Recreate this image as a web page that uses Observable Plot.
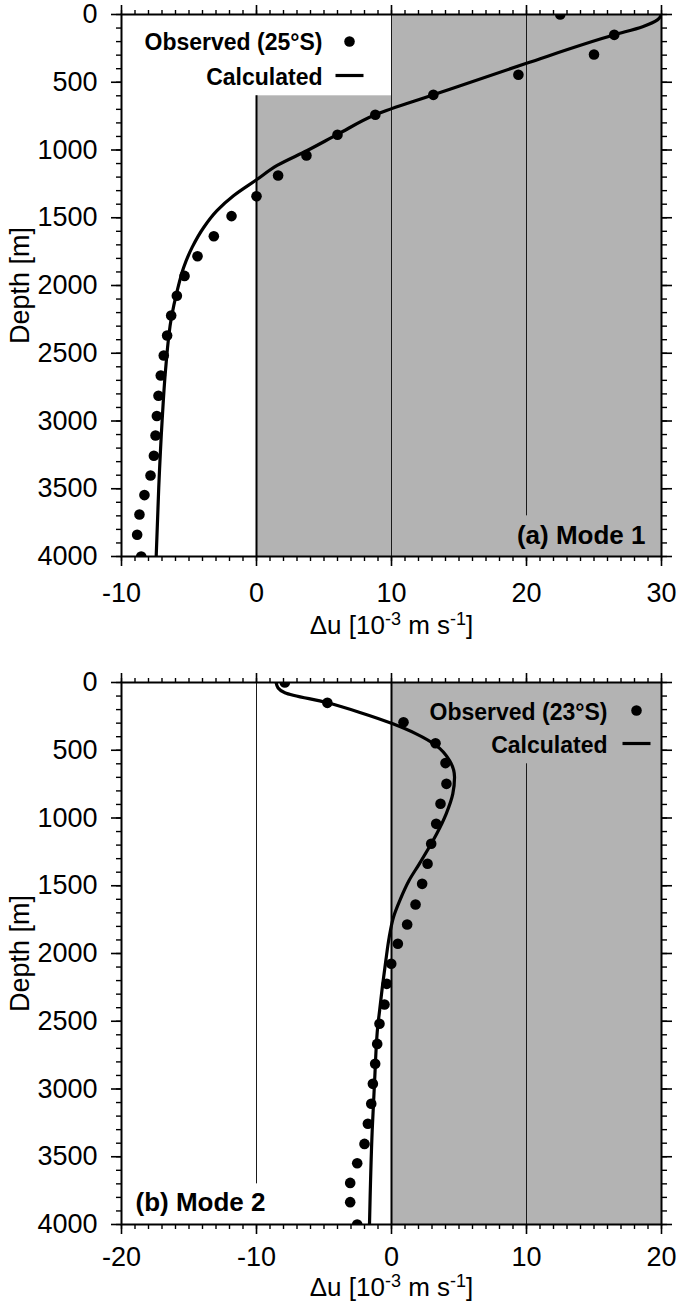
<!DOCTYPE html>
<html><head><meta charset="utf-8">
<script src="https://cdn.jsdelivr.net/npm/d3@7"></script>
<script src="https://cdn.jsdelivr.net/npm/@observablehq/plot@0.6"></script>
<style>
body{margin:0;background:#fff;}
#chart svg{display:block;}
</style>
</head><body><div id="chart"></div>
<script>
// ---------- data ----------
const depthMajorTicks = [0, 500, 1000, 1500, 2000, 2500, 3000, 3500, 4000];
const depthMinorTicks = [0,100,200,300,400,500,600,700,800,900,1000,1100,1200,1300,1400,1500,1600,1700,1800,1900,2000,2100,2200,2300,2400,2500,2600,2700,2800,2900,3000,3100,3200,3300,3400,3500,3600,3700,3800,3900,4000];

// Panel (a) Mode 1
const aXMajorTicks = [-10, 0, 10, 20, 30];
const aXMinorTicks = [-10,-9,-8,-7,-6,-5,-4,-3,-2,-1,0,1,2,3,4,5,6,7,8,9,10,11,12,13,14,15,16,17,18,19,20,21,22,23,24,25,26,27,28,29,30];
const aObsDu    = [22.5, 26.5, 25.0, 19.4, 13.1, 8.8, 6.0, 3.7, 1.6, 0.0, -1.85, -3.16, -4.37, -5.33, -5.9, -6.32, -6.62, -6.87, -7.09, -7.26, -7.38, -7.48, -7.6, -7.85, -8.3, -8.67, -8.84, -8.54];
const aObsDepth = [0, 150, 295, 445, 593, 740, 888, 1040, 1188, 1341, 1488, 1636, 1784, 1929, 2076, 2221, 2369, 2517, 2664, 2814, 2963, 3107, 3257, 3402, 3547, 3690, 3840, 4000];
const aCalcDu    = [30, 29.7, 28.6, 26.5, 20, 13.1, 8.8, 6.0, 3.76, 1.53, 0, -1.68, -2.91, -3.9, -4.76, -5.39, -5.87, -6.3, -6.74, -6.99, -7.24, -7.43];
const aCalcDepth = [0, 40, 90, 150, 360, 593, 740, 885, 1004, 1114, 1220, 1336, 1446, 1570, 1717, 1865, 2037, 2234, 2627, 2996, 3488, 4000];
const aShade = [{x1: 0, x2: 30, y1: 0, y2: 4000}];
const aLegendBox = [{x1: -10, x2: 10, y1: 0, y2: 600}];
const aThickRules = [{x: 0, from: 600, to: 4000}];
const aThinRules = [{x: 10, from: 0, to: 4000}, {x: 20, from: 0, to: 3700}];
const aLegend = ["Observed (25°S)", "Calculated"];
const aTag = "(a) Mode 1";

// Panel (b) Mode 2
const bXMajorTicks = [-20, -10, 0, 10, 20];
const bXMinorTicks = [-20,-19,-18,-17,-16,-15,-14,-13,-12,-11,-10,-9,-8,-7,-6,-5,-4,-3,-2,-1,0,1,2,3,4,5,6,7,8,9,10,11,12,13,14,15,16,17,18,19,20];
const bObsDu    = [-7.9, -4.75, 0.89, 3.26, 4.0, 4.07, 3.63, 3.31, 2.94, 2.67, 2.27, 1.78, 1.16, 0.47, -0.02, -0.35, -0.52, -0.89, -1.06, -1.21, -1.38, -1.5, -1.75, -2.0, -2.54, -3.06, -3.06, -2.54];
const bObsDepth = [0, 150, 293, 448, 595, 748, 895, 1043, 1190, 1338, 1486, 1638, 1786, 1928, 2076, 2224, 2376, 2519, 2667, 2814, 2962, 3109, 3257, 3405, 3548, 3693, 3835, 4000];
const bCalcDu    = [-8.55, -8.4, -7.9, -4.8, -2.4, 0.1, 1.83, 3.31, 4.3, 4.67, 4.54, 4.05, 3.35, 2.65, 2.05, 1.3, 0.65, 0.15, -0.17, -0.42, -0.68, -0.88, -1.0, -1.25, -1.43, -1.63];
const bCalcDepth = [0, 40, 75, 148, 219, 305, 379, 465, 576, 699, 822, 969, 1116, 1240, 1340, 1461, 1600, 1730, 1880, 2052, 2249, 2421, 2519, 2937, 3306, 4000];
const bShade = [{x1: 0, x2: 20, y1: 0, y2: 4000}];
const bThickRules = [{x: 0, from: 0, to: 4000}];
const bThinRules = [{x: -10, from: 0, to: 3700}, {x: 10, from: 600, to: 4000}];
const bLegend = ["Observed (23°S)", "Calculated"];
const bTag = "(b) Mode 2";

const xLabelParts = ["Δu [10", "-3", " m s", "-1", "]"];
const yLabel = "Depth [m]";

// ---------- helpers ----------
const FONT = "'Liberation Sans', Arial, Helvetica, sans-serif";
const SHADE = "#b3b3b3";
const pts = (xs, ys) => xs.map((v, i) => ({du: v, depth: ys[i]}));
const dashSymbol = {draw(ctx) { ctx.moveTo(-14, 0); ctx.lineTo(14, 0); }};
const fmt = d => String(d);

function panel(cfg) {
  const marks = [
    Plot.rect(cfg.shade, {x1: "x1", x2: "x2", y1: "y1", y2: "y2", fill: SHADE}),
  ];
  if (cfg.legendBox) marks.push(Plot.rect(cfg.legendBox, {x1: "x1", x2: "x2", y1: "y1", y2: "y2", fill: "white"}));
  marks.push(
    Plot.ruleX(cfg.thinRules, {x: "x", y1: "from", y2: "to", stroke: "#1a1a1a", strokeWidth: 1}),
    Plot.ruleX(cfg.thickRules, {x: "x", y1: "from", y2: "to", stroke: "black", strokeWidth: 2}),
    Plot.line(cfg.calc, {x: "du", y: "depth", curve: "monotone-y", stroke: "black", strokeWidth: 3.2, clip: true}),
    Plot.dot(cfg.obs, {x: "du", y: "depth", r: 5.3, fill: "black", stroke: "none", clip: true}),
    Plot.frame({stroke: "black", strokeWidth: 2}),
    // minor ticks (no text)
    Plot.axisY({anchor: "left", ticks: depthMinorTicks, tickSize: 5, strokeWidth: 1.4, fill: "none", label: null, tickFormat: fmt}),
    Plot.axisY({anchor: "right", ticks: depthMinorTicks, tickSize: 5, strokeWidth: 1.4, fill: "none", label: null, tickFormat: fmt}),
    Plot.axisY({anchor: "right", ticks: depthMajorTicks, tickSize: 10, strokeWidth: 1.6, fill: "none", label: null, tickFormat: fmt}),
    Plot.axisX({anchor: "top", ticks: cfg.xMinor, tickSize: 5, strokeWidth: 1.4, fill: "none", label: null, tickFormat: fmt}),
    Plot.axisX({anchor: "top", ticks: cfg.xMajor, tickSize: 10, strokeWidth: 1.6, fill: "none", label: null, tickFormat: fmt}),
    Plot.axisX({anchor: "bottom", ticks: cfg.xMinor, tickSize: 5, strokeWidth: 1.4, fill: "none", label: null, tickFormat: fmt}),
    // major ticks with labels
    Plot.axisY({anchor: "left", ticks: depthMajorTicks, tickSize: 10, tickPadding: 14, strokeWidth: 1.6, label: null, tickFormat: fmt, fontSize: 27, fill: "black"}),
    Plot.axisX({anchor: "bottom", ticks: cfg.xMajor, tickSize: 10, tickPadding: cfg.xPad, strokeWidth: 1.6, label: null, tickFormat: fmt, fontSize: 27, fill: "black"}),
    // axis titles
    Plot.text([yLabel], {frameAnchor: "left", dx: -101, rotate: -90, fontSize: 27, fill: "black", textAnchor: "middle", lineAnchor: "middle"}),
    Plot.text([xLabelParts.join("")], {frameAnchor: "bottom", dy: cfg.xLabelDy, fontSize: 26, fill: "black", lineAnchor: "middle", className: "xlab"}),
    // legend
    Plot.text([cfg.legend[0]], {frameAnchor: cfg.legAnchor, dx: cfg.legTextDx, dy: cfg.legDy[0], textAnchor: "end", lineAnchor: "middle", fontWeight: "bold", fontSize: 23, fill: "black"}),
    Plot.text([cfg.legend[1]], {frameAnchor: cfg.legAnchor, dx: cfg.legTextDx, dy: cfg.legDy[1], textAnchor: "end", lineAnchor: "middle", fontWeight: "bold", fontSize: 23, fill: "black"}),
    Plot.dot([cfg.legend[0]], {frameAnchor: cfg.legAnchor, dx: cfg.legSymDx, dy: cfg.legSymDy[0], r: 5.3, fill: "black"}),
    Plot.dot([cfg.legend[1]], {frameAnchor: cfg.legAnchor, dx: cfg.legSymDx, dy: cfg.legSymDy[1], r: 5, symbol: dashSymbol, fill: "none", stroke: "black", strokeWidth: 3.2}),
    // panel tag
    Plot.text([cfg.tag], {frameAnchor: cfg.tagAnchor, dx: cfg.tagDx, dy: cfg.tagDy, textAnchor: cfg.tagTextAnchor, lineAnchor: "middle", fontWeight: "bold", fontSize: 26, fill: "black"})
  );
  const svg = Plot.plot({
    width: 677, height: cfg.height,
    marginTop: cfg.mt, marginBottom: cfg.mb, marginLeft: 121, marginRight: 16,
    x: {domain: cfg.xDomain, axis: null},
    y: {domain: [0, 4000], reverse: true, axis: null},
    style: {fontFamily: FONT, fontSize: "27px", color: "black", background: "white", overflow: "visible"},
    marks
  });
  // superscripts in x label
  const t = svg.querySelector(".xlab text");
  if (t) {
    t.textContent = "";
    const NS = "http://www.w3.org/2000/svg";
    xLabelParts.forEach((p, i) => {
      const ts = document.createElementNS(NS, "tspan");
      ts.textContent = p;
      if (i === 1 || i === 3) { ts.setAttribute("dy", "-9"); ts.setAttribute("font-size", "18"); }
      else if (i > 0) ts.setAttribute("dy", "9");
      t.appendChild(ts);
    });
  }
  return svg;
}

const chart = document.getElementById("chart");
chart.appendChild(panel({
  height: 650, mt: 14, mb: 94, xDomain: [-10, 30],
  xMajor: aXMajorTicks, xMinor: aXMinorTicks, xPad: 16, xLabelDy: 69,
  shade: aShade, legendBox: aLegendBox, thickRules: aThickRules, thinRules: aThinRules,
  obs: pts(aObsDu, aObsDepth), calc: pts(aCalcDu, aCalcDepth),
  legend: aLegend, legAnchor: "top-left", legTextDx: 201, legDy: [28.5, 63], legSymDx: 228, legSymDy: [27, 61],
  tag: aTag, tagAnchor: "bottom-right", tagDx: -16, tagDy: -21, tagTextAnchor: "end"
}));
chart.appendChild(panel({
  height: 657, mt: 32, mb: 83, xDomain: [-20, 20],
  xMajor: bXMajorTicks, xMinor: bXMinorTicks, xPad: 12, xLabelDy: 63,
  shade: bShade, legendBox: null, thickRules: bThickRules, thinRules: bThinRules,
  obs: pts(bObsDu, bObsDepth), calc: pts(bCalcDu, bCalcDepth),
  legend: bLegend, legAnchor: "top-right", legTextDx: -54, legDy: [30, 63], legSymDx: -25, legSymDy: [28, 61],
  tag: bTag, tagAnchor: "bottom-left", tagDx: 14, tagDy: -22, tagTextAnchor: "start"
}));
</script>
</body></html>
